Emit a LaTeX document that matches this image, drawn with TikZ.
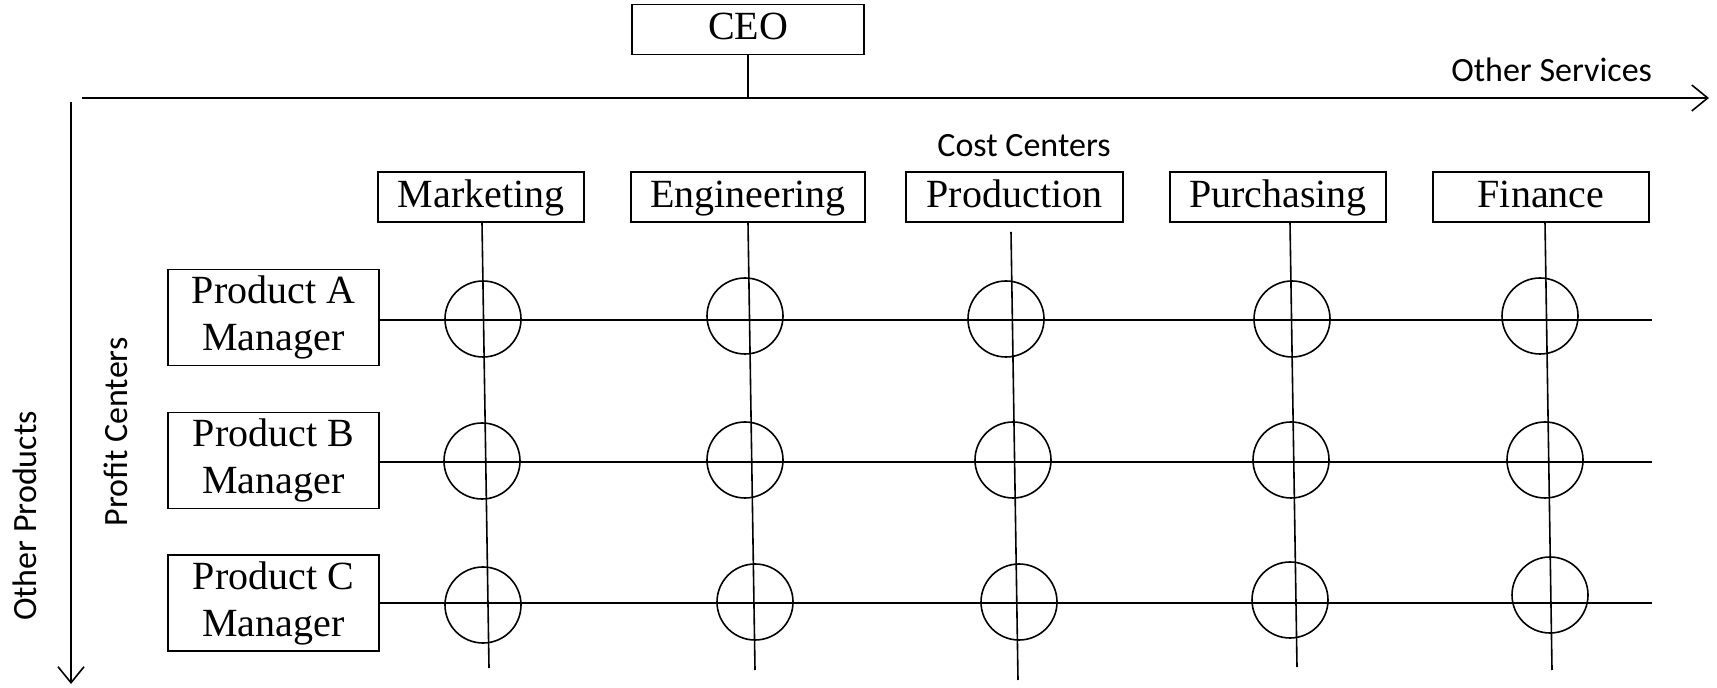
\documentclass[tikz,border=0pt]{standalone}
\usepackage{fontspec}
\setmainfont{Liberation Serif}
\newfontfamily\calfont{Carlito}
\usetikzlibrary{arrows.meta}

\begin{document}
\begin{tikzpicture}[x=0.5pt,y=-0.5pt,
  unit/.style={draw,line width=0.8pt,inner sep=0pt,font=\fontsize{20}{23.5}\selectfont},
  dept/.style={unit,minimum height=25pt,text height=14pt,text depth=3.5pt},
  mgr/.style={unit,align=center,minimum width=105.5pt,minimum height=48pt},
  hub/.style={draw,circle,line width=0.8pt,minimum size=38pt,inner sep=0pt},
  lab/.style={font=\calfont\fontsize{17}{20}\selectfont},
  link/.style={line width=0.8pt},
  axis/.style={line width=0.8pt,-{Straight Barb[length=8pt,width=13pt]}}]
  \useasboundingbox (0,0) rectangle (1717,688);
  \node[dept,minimum width=116pt] (ceo) at (748,29.5) {CEO};
  \coordinate (xstart) at (82,98);
  \coordinate (xend) at (1709,98);
  \coordinate (ystart) at (71,102);
  \coordinate (yend) at (71,684);
  \coordinate (top) at (748,98);
  \draw[axis] (xstart) -- (xend);
  \draw[axis] (ystart) -- (yend);
  \draw[link] (ceo) -- (top);
  \node[lab,anchor=base east] (services) at (1659,82) {Other Services};
  \node[lab,anchor=base] (cost) at (1024,157) {Cost Centers};
  \node[lab,anchor=base,rotate=90] (products) at (36,516) {Other Products};
  \node[lab,anchor=base,rotate=90] (profit) at (127,432) {Profit Centers};
  \foreach \r/\txt/\y/\ly in {A/Product A/317.5/320,B/Product B/460.5/462,C/Product C/603/603} {
    \node[mgr] (\r) at (273.5,\y) {\txt\\Manager};
    \coordinate (\r-end) at (1652,\ly);
    \draw[link] (\r.east |- \r-end) -- (\r-end);
  }
  \foreach \c/\txt/\x/\w/\dx/\dy/\bx/\by in {mkt/Marketing/481/103/1/0/489/668,
      eng/Engineering/748/117/0/0/755/670, prod/Production/1014.5/108.5/-3.5/9/1018/680,
      purch/Purchasing/1278/108/12/0/1297/667, fin/Finance/1541/108/4/0/1552/670} {
    \node[dept,minimum width=\w pt] (\c) at (\x,197) {\txt};
    \coordinate (\c-end) at (\bx,\by);
    \draw[link] ([shift={(\dx,\dy)}]\c.south) -- (\c-end);
  }
  \foreach \c/\r/\x/\y in {mkt/A/483/319, mkt/B/482/461, mkt/C/483/605,
      eng/A/745/316, eng/B/745/460, eng/C/755/602,
      prod/A/1006/319, prod/B/1013/460, prod/C/1019/602,
      purch/A/1292/319, purch/B/1291/460, purch/C/1290/600,
      fin/A/1540/316, fin/B/1545/460, fin/C/1550/595} {
    \node[hub] (\c-\r) at (\x,\y) {};
  }
\end{tikzpicture}
\end{document}
